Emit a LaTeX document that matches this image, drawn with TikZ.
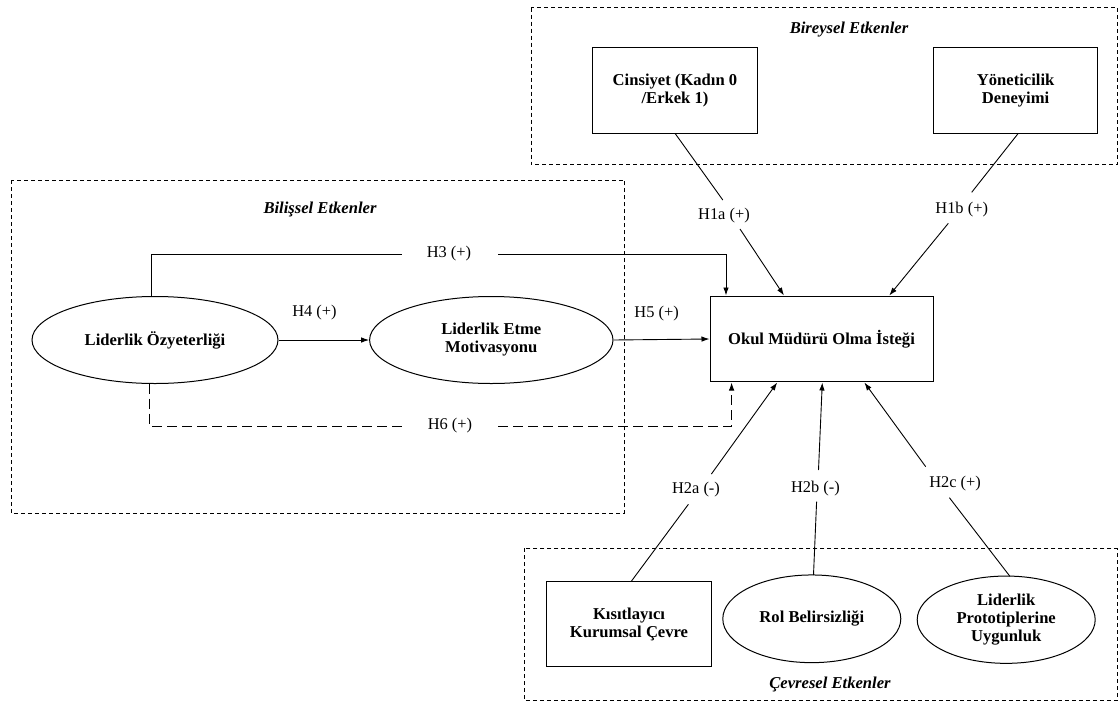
\documentclass[tikz,border=0pt]{standalone}
\usepackage{fontspec}
\setmainfont{Liberation Serif}
\usetikzlibrary{shapes.geometric,arrows.meta,calc}
\begin{document}
\begin{tikzpicture}[x=1pt,y=-1pt,
  bx/.style={draw, line width=1pt, align=center, inner sep=0pt,
     font=\bfseries\fontsize{16.6}{18}\selectfont},
  el/.style={ellipse, draw, line width=1pt, align=center, inner sep=0pt,
     font=\bfseries\fontsize{16.6}{18}\selectfont},
  grp/.style={draw, dash pattern=on 4pt off 3pt, line width=0.9pt},
  ttl/.style={font=\bfseries\itshape\fontsize{16.6}{18}\selectfont},
  lbl/.style={font=\fontsize{16.4}{18}\selectfont, inner sep=0pt},
  ln/.style={line width=0.9pt},
  arr/.style={line width=0.9pt, -{Latex[length=8pt,width=5.5pt]}},
  dsh/.style={dash pattern=on 10pt off 5pt}]
\useasboundingbox (0,0) rectangle (1120,702);

% group frames
\draw[grp] (531,7.5) rectangle (1117.5,164.3);
\draw[grp] (11,180) rectangle (624.4,513);
\draw[grp] (524,548.3) rectangle (1117,700.5);
\node[ttl] (tbir) at (849,29.5) {Bireysel Etkenler};
\node[ttl] (tbil) at (320,209.5) {Bilişsel Etkenler};
\node[ttl] (tcev) at (830,684) {Çevresel Etkenler};

% nodes
\node[bx, minimum width=164.6pt, minimum height=85.6pt] (cin) at (675,90.5) {Cinsiyet (Kadın 0\\/Erkek 1)};
\node[bx, minimum width=164.6pt, minimum height=85.6pt] (yon) at (1015.6,90.5) {Yöneticilik\\Deneyimi};
\node[bx, minimum width=223pt, minimum height=85.7pt] (ok) at (821.5,339) {Okul Müdürü Olma İsteği};
\node[el, minimum width=246pt, minimum height=87pt] (lo) at (155,340) {Liderlik Özyeterliği};
\node[el, minimum width=243.4pt, minimum height=87pt] (lm) at (491.3,340) {Liderlik Etme\\Motivasyonu};
\node[bx, minimum width=164.6pt, minimum height=85pt] (kis) at (629,624.2) {Kısıtlayıcı\\Kurumsal Çevre};
\node[el, minimum width=178pt, minimum height=87.7pt] (rol) at (811.8,618.8) {Rol Belirsizliği};
\node[el, minimum width=178pt, minimum height=87.3pt] (pro) at (1006.2,619.7) {Liderlik\\Prototiplerine\\Uygunluk};

% labels
\node[lbl] (h1a) at (724,215.7) {H1a (+)};
\node[lbl] (h1b) at (961.7,209.3) {H1b (+)};
\node[lbl] (h3) at (449,254) {H3 (+)};
\node[lbl] (h4) at (314.5,312.7) {H4 (+)};
\node[lbl] (h5) at (656.6,313.3) {H5 (+)};
\node[lbl] (h6) at (450,426) {H6 (+)};
\node[lbl] (h2a) at (696,490) {H2a (-)};
\node[lbl] (h2b) at (815.4,488.3) {H2b (-)};
\node[lbl] (h2c) at (955.1,483.3) {H2c (+)};

% connector coordinates
\coordinate (c1) at (675,133.3);
\coordinate (c2) at (722.8,200);
\coordinate (c3) at (740,229);
\coordinate (c4) at (784,295.5);
\coordinate (y1) at (1018.3,133.3);
\coordinate (y2) at (971.7,192.3);
\coordinate (y3) at (948.3,223.3);
\coordinate (y4) at (889.3,295.5);
\coordinate (l3a) at (151.5,296.5);
\coordinate (l3b) at (151.5,254);
\coordinate (l3c) at (401.7,254);
\coordinate (l3d) at (498,254);
\coordinate (l3e) at (726,254);
\coordinate (l3f) at (726,295.5);
\coordinate (l6a) at (149.5,383.5);
\coordinate (l6b) at (149.5,426);
\coordinate (l6c) at (404,426);
\coordinate (l6d) at (498,426);
\coordinate (l6e) at (731.6,426);
\coordinate (l6f) at (731.6,382.5);
\coordinate (a1) at (631,581.7);
\coordinate (a2) at (688.4,504.3);
\coordinate (a3) at (711.4,474);
\coordinate (a4) at (777.2,382.5);
\coordinate (b1) at (813.5,575);
\coordinate (b2) at (816.6,501.7);
\coordinate (b3) at (818.5,470);
\coordinate (b4) at (822.3,382.5);
\coordinate (p1) at (1009.9,576.3);
\coordinate (p2) at (949.4,497.7);
\coordinate (p3) at (925.7,466.7);
\coordinate (p4) at (864.4,382.5);

% connectors
\draw[ln] (c1) -- (c2);
\draw[arr] (c3) -- (c4);
\draw[ln] (y1) -- (y2);
\draw[arr] (y3) -- (y4);
\draw[ln] (l3a) -- (l3b) -- (l3c);
\draw[arr] (l3d) -- (l3e) -- (l3f);
\draw[arr] (lo.east) -- (lm.west);
\draw[arr] (lm.east) -- (ok.west);
\draw[ln,dsh] (l6a) -- (l6b) -- (l6c);
\draw[arr,dsh] (l6d) -- (l6e) -- (l6f);
\draw[ln] (a1) -- (a2);
\draw[arr] (a3) -- (a4);
\draw[ln] (b1) -- (b2);
\draw[arr] (b3) -- (b4);
\draw[ln] (p1) -- (p2);
\draw[arr] (p3) -- (p4);
\end{tikzpicture}
\end{document}
